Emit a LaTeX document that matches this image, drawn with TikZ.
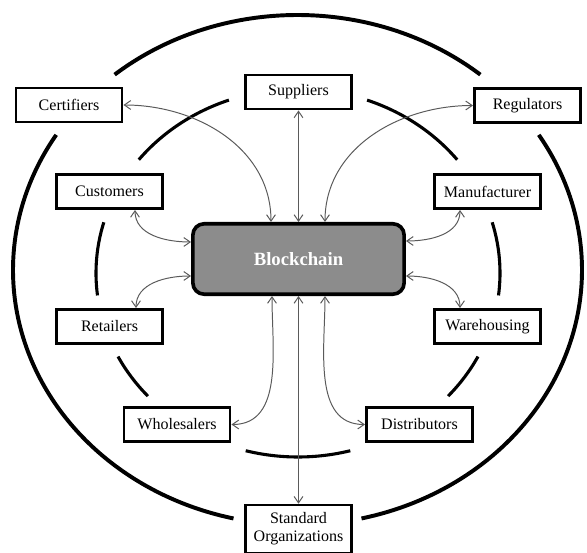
\documentclass[tikz,border=0pt]{standalone}
\usepackage{fontspec}
\setmainfont{Liberation Serif}
\usetikzlibrary{positioning, arrows.meta, calc}
\definecolor{sc-gray}{RGB}{140,140,140}
\definecolor{sc-line}{RGB}{90,90,90}
\tikzset{
  sc@party/.style={
    draw=black, fill=white, line width=1.8pt,
    minimum width=2.66cm, minimum height=0.86cm,
    align=center, inner sep=2pt,
    font=\fontsize{11.4}{12.8}\selectfont
  },
  sc@chain/.style={
    draw=black, fill=sc-gray, line width=2.6pt, rounded corners=8pt,
    minimum width=5.28cm, minimum height=1.76cm,
    text=white, font=\fontsize{13.3}{15}\selectfont\bfseries
  },
  sc@arr/.style={{Straight Barb[length=1.6mm,width=2.2mm]}-{Straight Barb[length=1.6mm,width=2.2mm]},
    sc-line, line width=0.7pt},
  sc@outer/.style={line width=2.8pt},
  sc@inner/.style={line width=2.2pt},
}
\begin{document}
\begin{tikzpicture}[x=0.025cm, y=0.025cm]
  \useasboundingbox (0,0) rectangle (587,553);
  \coordinate (outerc) at (297.5,283);
  \coordinate (innerc) at (298,280);
  % rings
  \draw[sc@outer] (outerc) ++(50:284.5 and 255) arc[start angle=50, end angle=130, x radius=284.5, y radius=255];
  \draw[sc@outer] (outerc) ++(148:284.5 and 255) arc[start angle=148, end angle=257, x radius=284.5, y radius=255];
  \draw[sc@outer] (outerc) ++(-77:284.5 and 255) arc[start angle=-77, end angle=32, x radius=284.5, y radius=255];
  \draw[sc@inner] (innerc) ++(110:202 and 184) arc[start angle=110, end angle=142, x radius=202, y radius=184];
  \draw[sc@inner] (innerc) ++(38:202 and 184) arc[start angle=38, end angle=70, x radius=202, y radius=184];
  \draw[sc@inner] (innerc) ++(164:202 and 184) arc[start angle=164, end angle=187, x radius=202, y radius=184];
  \draw[sc@inner] (innerc) ++(-7:202 and 184) arc[start angle=-7, end angle=16, x radius=202, y radius=184];
  \draw[sc@inner] (innerc) ++(207:202 and 184) arc[start angle=207, end angle=222, x radius=202, y radius=184];
  \draw[sc@inner] (innerc) ++(318:202 and 184) arc[start angle=318, end angle=333, x radius=202, y radius=184];
  \draw[sc@inner] (innerc) ++(255:202 and 184) arc[start angle=255, end angle=285, x radius=202, y radius=184];
  % nodes
  \node[sc@chain] (chain) at (298.5,294) {Blockchain};
  \node[sc@party] (suppliers)    at (298.5,461)   {Suppliers};
  \node[sc@party] (certifiers)   at (69,448)      {Certifiers};
  \node[sc@party] (regulators)   at (527.5,447.5) {Regulators};
  \node[sc@party] (customers)    at (109.5,361.5) {Customers};
  \node[sc@party] (manufacturer) at (487.5,361.5) {Manufacturer};
  \node[sc@party] (retailers)    at (109.5,226.5) {Retailers};
  \node[sc@party] (warehousing)  at (487.5,226.5) {Warehousing};
  \node[sc@party] (wholesalers)  at (177,128.5)   {Wholesalers};
  \node[sc@party] (distributors) at (419.5,128.5) {Distributors};
  \node[sc@party, minimum height=1.2cm] (standard) at (298.5,24) {Standard\\Organizations};
  % links to the chain
  \draw[sc@arr] (suppliers) -- (chain);
  \draw[sc@arr] (standard) -- (chain);
  \draw[sc@arr] (certifiers.east) to[out=0, in=90] ($(chain.north)+(-27.5,0)$);
  \draw[sc@arr] (regulators.west) to[out=180, in=90] ($(chain.north)+(26.5,0)$);
  \draw[sc@arr] ($(customers.south)+(25.5,0)$) to[out=-90, in=180] ($(chain.west)+(0,17)$);
  \draw[sc@arr] ($(manufacturer.south)+(-27.5,0)$) to[out=-90, in=0] ($(chain.east)+(0,18)$);
  \draw[sc@arr] ($(chain.west)+(0,-17)$) to[out=180, in=90] ($(retailers.north)+(26.5,0)$);
  \draw[sc@arr] ($(chain.east)+(0,-17)$) to[out=0, in=90] ($(warehousing.north)+(-27.5,0)$);
  \draw[sc@arr] (wholesalers.east) to[out=0, in=-90] ($(chain.south)+(-26.5,0)$);
  \draw[sc@arr] (distributors.west) to[out=180, in=-90] ($(chain.south)+(26.5,0)$);
\end{tikzpicture}
\end{document}
